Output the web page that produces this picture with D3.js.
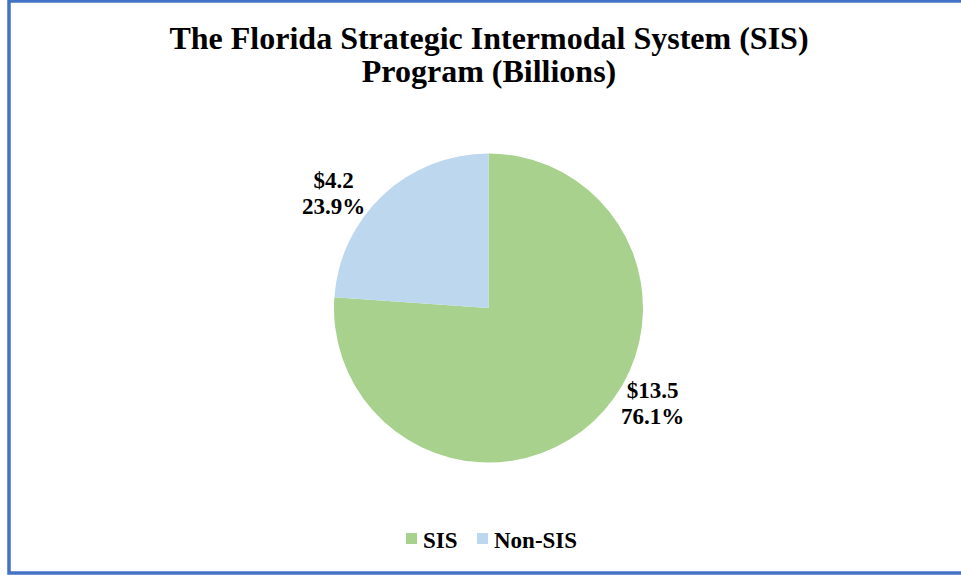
<!DOCTYPE html>
<html><head><meta charset="utf-8">
<script src="https://cdn.jsdelivr.net/npm/d3@7"></script>
<style>body{margin:0;background:#fff}svg{display:block}</style>
</head><body>
<script>
const categories = ["SIS", "Non-SIS"];
const values = [13.5, 4.24];
const valueLabels = ["$13.5", "$4.2"];
const percentLabels = ["76.1%", "23.9%"];
const colors = ["#A9D18E", "#BDD7EE"];
const titleLines = ["The Florida Strategic Intermodal System (SIS)", "Program (Billions)"];

const W = 961, H = 575;
const svg = d3.select("body").append("svg").attr("width", W).attr("height", H);
svg.append("rect").attr("x", 9).attr("y", 1).attr("width", 970).attr("height", 572)
  .attr("fill", "#fff").attr("stroke", "#4472C4").attr("stroke-width", 3.5);

const font = "'Liberation Serif', 'Times New Roman', serif";
svg.append("g").selectAll("text").data(titleLines).join("text")
  .attr("x", 489).attr("y", (d, i) => 49 + i * 33)
  .attr("text-anchor", "middle").style("font-family", font).style("font-weight", "bold")
  .style("font-size", "32px").attr("fill", "#000")
  .text(d => d);

const cx = 488.5, cy = 308, r = 154.5;
const pie = d3.pie().sort(null).value(d => d)(values);
const arc = d3.arc().innerRadius(0).outerRadius(r);
const g = svg.append("g").attr("transform", `translate(${cx},${cy})`);
g.selectAll("path").data(pie).join("path").attr("d", arc).attr("fill", (d, i) => colors[i]);

// label placement (best-fit style, outside the slice)
const labelPos = [[164, 90], [-155, -120]];
const lbl = g.selectAll("text.lbl").data(pie).join("text").attr("class", "lbl")
  .style("font-family", font).style("font-weight", "bold").style("font-size", "23px")
  .attr("text-anchor", "middle")
  .attr("transform", (d, i) => `translate(${labelPos[i][0]},${labelPos[i][1]})`);
lbl.append("tspan").attr("x", 0).attr("y", 0).text((d, i) => valueLabels[i]);
lbl.append("tspan").attr("x", 0).attr("y", 26).text((d, i) => percentLabels[i]);

const leg = svg.append("g");
const legX = [406, 477];
categories.forEach((c, i) => {
  leg.append("rect").attr("x", legX[i]).attr("y", 533).attr("width", 11).attr("height", 11).attr("fill", colors[i]);
  leg.append("text").attr("x", legX[i] + 17).attr("y", 548).style("font-family", font)
    .style("font-weight", "bold").style("font-size", "23px").text(c);
});
</script>
</body></html>
